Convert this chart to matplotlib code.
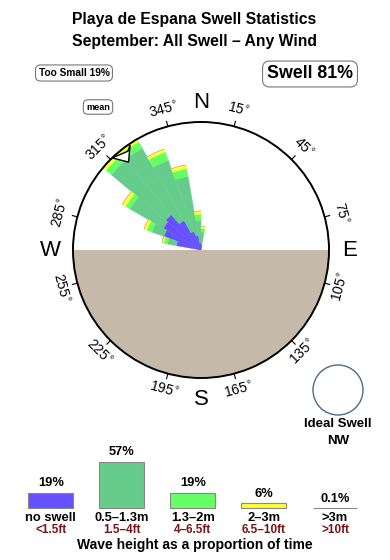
import numpy as np
import matplotlib
matplotlib.use("Agg")
import matplotlib.pyplot as plt
from matplotlib.patches import Circle

plt.rcParams['font.family'] = ['Liberation Sans', 'DejaVu Sans']

# Rose data: 10 degree bins (centre direction), radial share of the circle (circle = 100)
directions = [285, 295, 305, 315, 325, 335, 345, 355, 5]
no_swell = [19.5, 31, 34, 36, 26.5, 15.5, 11.5, 6, 4]
h_05_13 = [7, 10, 30, 55.5, 65.5, 59, 47, 17, 10]
h_13_2 = [3, 4, 4, 5.5, 5.5, 7, 6, 5, 3]
h_2_3 = [1.5, 2.5, 3, 3, 2.5, 2.5, 3, 2.5, 1.5]
h_3_up = [0, 0, 0, 0, 0, 0, 0, 0, 0]

# Legend data
legend_pct = [19, 57, 19, 6, 0.1]
legend_m = ["no swell", "0.5–1.3m", "1.3–2m", "2–3m", ">3m"]
legend_ft = ["<1.5ft", "1.5–4ft", "4–6.5ft", "6.5–10ft", ">10ft"]
colors = ["#6650ff", "#66cc8c", "#66ff66", "#ffff33", "#c8aaa0"]

deg_labels = [15, 45, 75, 105, 135, 165, 195, 225, 255, 285, 315, 345]
mean_dir = 321

W, H = 390, 560


def px_box(x0, y0, x1, y1):
    return [x0 / W, 1 - y1 / H, (x1 - x0) / W, (y1 - y0) / H]


fig = plt.figure(figsize=(W / 100, H / 100), dpi=100)

# Titles
fig.text(194 / W, 1 - 24 / H, "Playa de Espana Swell Statistics",
         ha="center", va="baseline", fontsize=11.3, fontweight="bold")
fig.text(194 / W, 1 - 46 / H, "September: All Swell – Any Wind",
         ha="center", va="baseline", fontsize=11.3, fontweight="bold")

# Rose
ax = fig.add_axes(px_box(73, 122, 329, 378), projection="polar")
ax.set_theta_zero_location("N")
ax.set_theta_direction(-1)
ax.set_ylim(0, 100)
ax.set_xticks([])
ax.set_yticks([])
ax.grid(False)
ax.spines["polar"].set_linewidth(1.4)
ax.spines["polar"].set_zorder(10)

theta = np.deg2rad(directions)
width = np.deg2rad(10)
bottom = np.zeros(len(directions))
for vals, c in zip([no_swell, h_05_13, h_13_2, h_2_3, h_3_up], colors):
    ax.bar(theta, vals, width=width, bottom=bottom, color=c,
           edgecolor=c, linewidth=0.3, zorder=2)
    bottom = bottom + np.array(vals)

# land (southern half)
ax.bar(np.deg2rad(180), 100, width=np.pi, bottom=0, color="#c5b9aa",
       edgecolor="none", zorder=3)

# mean direction marker
ax.fill(np.deg2rad([mean_dir - 5, mean_dir - 0.5, mean_dir + 5, mean_dir + 2.5]),
        [100, 89, 99, 96], facecolor="white", edgecolor="black", lw=1, zorder=6)

# degree ticks and labels
for d in deg_labels:
    t = np.deg2rad(d)
    ax.plot([t, t], [100, 104], color="black", lw=0.8, clip_on=False, zorder=10)
    rot = (-d) % 180
    if rot > 90:
        rot -= 180
    ax.text(t, 113, f"{d}$^{{\\circ}}$", ha="center", va="center",
            rotation=rot, rotation_mode="anchor", fontsize=10, clip_on=False)

for lab, d, r in [("N", 0, 115), ("E", 90, 116), ("S", 180, 117), ("W", 270, 118)]:
    ax.text(np.deg2rad(d), r, lab, ha="center", va="center", fontsize=16,
            clip_on=False)

# Boxes
box = dict(boxstyle="round,pad=0.3,rounding_size=0.5", fc="white", ec="#777777", lw=0.8)
fig.text(74 / W, 1 - 73 / H, "Too Small 19%", ha="center", va="center",
         fontsize=7.3, fontweight="bold", bbox=box)
fig.text(98 / W, 1 - 107 / H, "mean", ha="center", va="center",
         fontsize=6.6, fontweight="bold", bbox=box)
box2 = dict(boxstyle="round,pad=0.25,rounding_size=0.4", fc="white", ec="#777777", lw=0.8)
fig.text(310 / W, 1 - 74 / H, "Swell 81%", ha="center", va="center",
         fontsize=12.8, fontweight="bold", bbox=box2)

# Ideal swell circle (drawn in inches so it stays round)
fig.patches.append(Circle((338 / 100, (H - 390) / 100), 0.25,
                          transform=fig.dpi_scale_trans,
                          fc="white", ec="#4a6a90", lw=1.0))
fig.text(338 / W, 1 - 424 / H, "Ideal Swell", ha="center", va="center",
         fontsize=9.5, fontweight="bold")
fig.text(338 / W, 1 - 441 / H, "NW", ha="center", va="center",
         fontsize=9.5, fontweight="bold")

# Legend bars
lx = fig.add_axes(px_box(0, 448, 390, 508.3))
lx.set_xlim(-50.8 / 71.05, (390 - 50.8) / 71.05)
lx.set_ylim(0, 60.3 / 0.82)
lx.axis("off")
xs = np.arange(len(legend_pct))
lx.bar(xs, legend_pct, width=0.633, color=colors, edgecolor="#888888",
       linewidth=0.8, clip_on=False)
for x, v in zip(xs, legend_pct):
    lx.text(x, v + 4, f"{v:g}%", ha="center", va="bottom", fontsize=9.3,
            fontweight="bold", clip_on=False)
for x, m, f in zip(xs, legend_m, legend_ft):
    px_x = (50.8 + 71.05 * x) / W
    fig.text(px_x, 1 - 518 / H, m, ha="center", va="center", fontsize=9.3,
             fontweight="bold")
    fig.text(px_x, 1 - 530 / H, f, ha="center", va="center", fontsize=8.5,
             fontweight="bold", color="#7a1414")

fig.text(195 / W, 1 - 545 / H, "Wave height as a proportion of time",
         ha="center", va="center", fontsize=10, fontweight="bold")

fig.savefig("out.png", dpi=100)
